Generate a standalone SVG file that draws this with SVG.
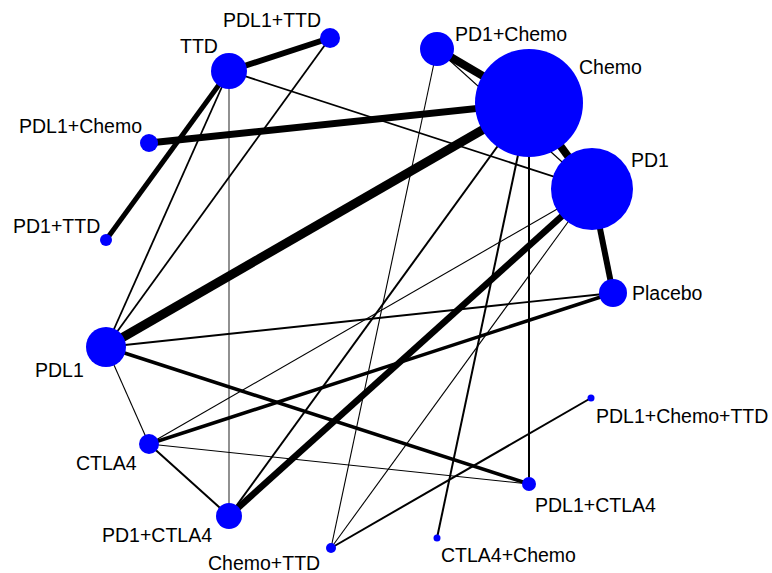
<svg xmlns="http://www.w3.org/2000/svg" width="772" height="573" viewBox="0 0 772 573">
<style>
.e{stroke:#000;stroke-linecap:butt;fill:none}
.n{fill:#0000FF}
.t{font-family:"Liberation Sans",Arial,sans-serif;font-size:19.5px;fill:#000}
</style>
<rect width="772" height="573" fill="#fff"/>
<g id="connectors">
<line class="e" x1="229" y1="71" x2="330" y2="38" stroke-width="6"/>
<line class="e" x1="229" y1="71" x2="106" y2="240" stroke-width="5"/>
<line class="e" x1="229" y1="71" x2="106" y2="347" stroke-width="1.8"/>
<line class="e" x1="229" y1="71" x2="229" y2="516" stroke-width="1.3" style="stroke:#555"/>
<line class="e" x1="229" y1="71" x2="592" y2="189" stroke-width="1.8"/>
<line class="e" x1="330" y1="38" x2="106" y2="347" stroke-width="1.8"/>
<line class="e" x1="149" y1="143" x2="529" y2="103" stroke-width="7"/>
<line class="e" x1="437" y1="49" x2="529" y2="103" stroke-width="8"/>
<line class="e" x1="437" y1="49" x2="592" y2="189" stroke-width="1.2"/>
<line class="e" x1="437" y1="49" x2="331" y2="548" stroke-width="1.1"/>
<line class="e" x1="529" y1="103" x2="592" y2="189" stroke-width="8"/>
<line class="e" x1="529" y1="103" x2="106" y2="347" stroke-width="9"/>
<line class="e" x1="529" y1="103" x2="229" y2="516" stroke-width="2"/>
<line class="e" x1="529" y1="103" x2="437" y2="538" stroke-width="2"/>
<line class="e" x1="529" y1="103" x2="529" y2="484" stroke-width="2"/>
<line class="e" x1="592" y1="189" x2="613" y2="293" stroke-width="6"/>
<line class="e" x1="592" y1="189" x2="229" y2="516" stroke-width="6.5"/>
<line class="e" x1="592" y1="189" x2="149" y2="444" stroke-width="1.1"/>
<line class="e" x1="592" y1="189" x2="331" y2="548" stroke-width="1.1"/>
<line class="e" x1="106" y1="347" x2="613" y2="293" stroke-width="1.8"/>
<line class="e" x1="106" y1="347" x2="529" y2="484" stroke-width="3.5"/>
<line class="e" x1="106" y1="347" x2="149" y2="444" stroke-width="1.1"/>
<line class="e" x1="149" y1="444" x2="613" y2="293" stroke-width="3.5"/>
<line class="e" x1="149" y1="444" x2="529" y2="484" stroke-width="1.1"/>
<line class="e" x1="149" y1="444" x2="229" y2="516" stroke-width="2"/>
<line class="e" x1="331" y1="548" x2="591" y2="398" stroke-width="2"/>
</g>
<g id="node-PDL1_TTD"><circle class="n" cx="330" cy="38" r="10"/><text class="t" x="223" y="27">PDL1+TTD</text></g>
<g id="node-TTD"><circle class="n" cx="229" cy="71" r="18"/><text class="t" x="180" y="53">TTD</text></g>
<g id="node-PDL1_Chemo"><circle class="n" cx="149" cy="143" r="9"/><text class="t" x="19" y="133">PDL1+Chemo</text></g>
<g id="node-PD1_TTD"><circle class="n" cx="106" cy="240" r="6"/><text class="t" x="13" y="233">PD1+TTD</text></g>
<g id="node-PD1_Chemo"><circle class="n" cx="437" cy="49" r="17"/><text class="t" x="455" y="41">PD1+Chemo</text></g>
<g id="node-Chemo"><circle class="n" cx="529" cy="103" r="54"/><text class="t" x="579" y="74">Chemo</text></g>
<g id="node-PD1"><circle class="n" cx="592" cy="189" r="41"/><text class="t" x="631" y="167">PD1</text></g>
<g id="node-Placebo"><circle class="n" cx="613" cy="293" r="14"/><text class="t" x="632" y="300">Placebo</text></g>
<g id="node-PDL1"><circle class="n" cx="106" cy="347" r="20"/><text class="t" x="35" y="377">PDL1</text></g>
<g id="node-PDL1_Chemo_TTD"><circle class="n" cx="591" cy="398" r="3.5"/><text class="t" x="596" y="423">PDL1+Chemo+TTD</text></g>
<g id="node-CTLA4"><circle class="n" cx="149" cy="444" r="10"/><text class="t" x="76" y="470">CTLA4</text></g>
<g id="node-PDL1_CTLA4"><circle class="n" cx="529" cy="484" r="7"/><text class="t" x="535" y="512">PDL1+CTLA4</text></g>
<g id="node-PD1_CTLA4"><circle class="n" cx="229" cy="516" r="13"/><text class="t" x="102" y="542">PD1+CTLA4</text></g>
<g id="node-Chemo_TTD"><circle class="n" cx="331" cy="548" r="5"/><text class="t" x="208" y="570">Chemo+TTD</text></g>
<g id="node-CTLA4_Chemo"><circle class="n" cx="437" cy="538" r="3.5"/><text class="t" x="441" y="562">CTLA4+Chemo</text></g>
</svg>
